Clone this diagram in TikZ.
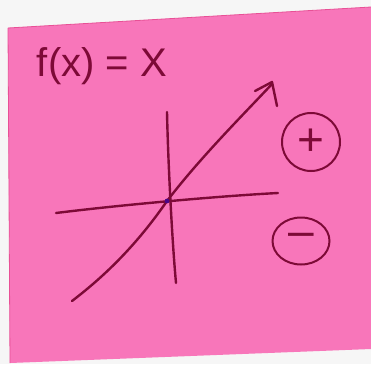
\documentclass[tikz,border=0pt]{standalone}
\usepackage{fontspec}
\setmainfont{Liberation Sans}
\usetikzlibrary{shapes.geometric}
\definecolor{note}{RGB}{248,118,186}
\definecolor{noteedge}{RGB}{232,80,150}
\definecolor{ink}{RGB}{125,10,55}
\definecolor{paper}{RGB}{246,246,246}
\tikzset{
  pen/.style={draw=ink, line width=2.4pt, line cap=round, line join=round},
  sign/.style={pen, line width=2pt, inner sep=0pt, text=ink, font=\fontsize{46}{46}\selectfont},
}
\begin{document}
\begin{tikzpicture}[x=1pt,y=-1pt]
\useasboundingbox (0,0) rectangle (371,364);
\fill[paper] (0,0) rectangle (371,364);
% sticky note
\fill[note] (8,28) -- (371,7) -- (371,349) -- (10,363) -- cycle;
\draw[noteedge, line width=0.8pt] (8,28) -- (371,7);
\draw[noteedge, line width=0.8pt] (8,28) -- (10,363);
% title
\node[text=ink, font=\fontsize{40}{40}\selectfont, inner sep=0pt] (title) at (102,66) {f(x) = X};
% axes
\coordinate (ytop) at (167,112);
\coordinate (ybot) at (176,283);
\coordinate (xl) at (56,213);
\coordinate (xr) at (278,193);
\coordinate (o) at (167,201);
\draw[pen] (ytop) .. controls (168,160) and (172,240) .. (ybot);
\draw[pen] (xl) .. controls (120,205) and (220,196) .. (xr);
% graph of f
\coordinate (gs) at (72,301);
\coordinate (ge) at (272,84);
\coordinate (tip) at (272,82);
\coordinate (barbL) at (255,91);
\coordinate (barbR) at (277,106);
\draw[pen] (gs) .. controls (110,272) and (140,240) .. (o) .. controls (200,158) and (240,118) .. (ge);
\draw[pen] (barbL) -- (tip) -- (barbR);
\fill[ink!60!blue] (o) circle (2.4);
% signs
\node[sign, circle, minimum size=58pt] (plus) at (311,142) {+};
\node[sign, ellipse, minimum width=57pt, minimum height=47pt] (minus) at (301,241) {\raisebox{3pt}{–}};
\end{tikzpicture}
\end{document}
